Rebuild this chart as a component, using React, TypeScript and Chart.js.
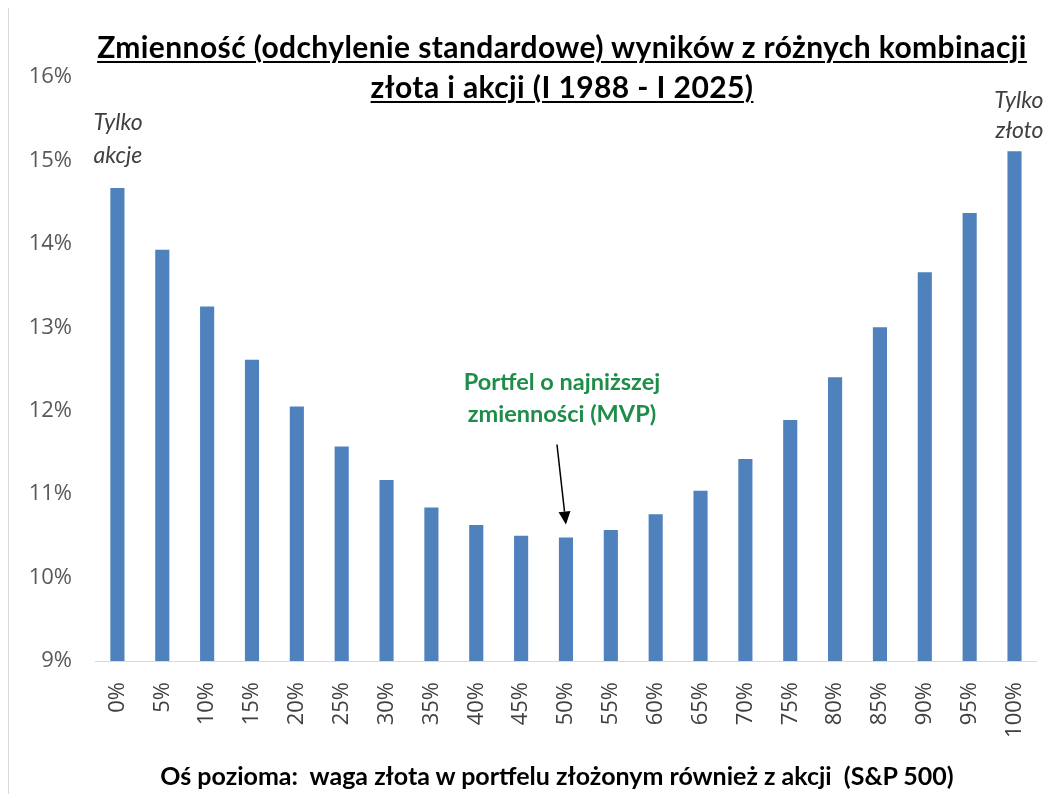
import React, { useEffect, useRef } from 'react';
import { Chart, registerables } from 'chart.js';

Chart.register(...registerables);

const categories = ['0%', '5%', '10%', '15%', '20%', '25%', '30%', '35%', '40%', '45%', '50%', '55%', '60%', '65%', '70%', '75%', '80%', '85%', '90%', '95%', '100%'];
const volatility = [14.67, 13.93, 13.25, 12.61, 12.05, 11.57, 11.17, 10.84, 10.63, 10.5, 10.48, 10.57, 10.76, 11.04, 11.42, 11.89, 12.4, 13.0, 13.66, 14.37, 15.11];
const yMin = 9;
const yMax = 16;
const titleLines = ['Zmienność (odchylenie standardowe) wyników z różnych kombinacji', 'złota i akcji (I 1988 - I 2025)'];
const xAxisTitle = 'Oś pozioma:  waga złota w portfelu złożonym również z akcji  (S&P 500)';
const leftNote = ['Tylko', 'akcje'];
const rightNote = ['Tylko', 'złoto'];
const mvpNote = ['Portfel o najniższej', 'zmienności (MVP)'];
const mvpIndex = 10;

const FONT = 'Lato, "Open Sans", sans-serif';
const TICK_FONT = '"Open Sans", Lato, sans-serif';

const annotations = {
  id: 'annotations',
  afterDatasetsDraw(chart: any) {
    const { ctx, scales } = chart;
    const x = scales.x;
    const y = scales.y;
    ctx.save();
    // Left note
    const x0 = x.getPixelForValue(0);
    const y0 = y.getPixelForValue(volatility[0]);
    ctx.fillStyle = '#404040';
    ctx.font = `italic 23px ${FONT}`;
    ctx.textAlign = 'left';
    ctx.textBaseline = 'middle';
    ctx.fillText(leftNote[0], x0 - 24, y0 - 65);
    ctx.fillText(leftNote[1], x0 - 24, y0 - 32);
    // Right note
    const last = volatility.length - 1;
    const xl = x.getPixelForValue(last);
    const yl = y.getPixelForValue(volatility[last]);
    ctx.textAlign = 'right';
    ctx.fillText(rightNote[0], xl + 29, yl - 51);
    ctx.fillText(rightNote[1], xl + 29, yl - 21);
    // MVP note
    const xm = x.getPixelForValue(mvpIndex);
    const ym = y.getPixelForValue(volatility[mvpIndex]);
    ctx.fillStyle = '#1f8c4a';
    ctx.font = `bold 23.5px ${FONT}`;
    ctx.textAlign = 'center';
    ctx.fillText(mvpNote[0], xm - 4, ym - 155);
    ctx.fillText(mvpNote[1], xm - 4, ym - 123);
    // Arrow
    const sx = xm - 9, sy = ym - 93;
    const tx = xm, ty = ym - 13;
    const ang = Math.atan2(ty - sy, tx - sx);
    const headLen = 13, headW = 6;
    const bx = tx - headLen * Math.cos(ang);
    const by = ty - headLen * Math.sin(ang);
    ctx.strokeStyle = '#000';
    ctx.lineWidth = 1.5;
    ctx.beginPath();
    ctx.moveTo(sx, sy);
    ctx.lineTo(bx, by);
    ctx.stroke();
    ctx.fillStyle = '#000';
    ctx.beginPath();
    ctx.moveTo(tx, ty);
    ctx.lineTo(bx + headW * Math.sin(ang), by - headW * Math.cos(ang));
    ctx.lineTo(bx - headW * Math.sin(ang), by + headW * Math.cos(ang));
    ctx.closePath();
    ctx.fill();
    ctx.restore();
  },
};

export default function App() {
  const canvasRef = useRef<HTMLCanvasElement | null>(null);

  useEffect(() => {
    if (!canvasRef.current) return;
    const chart = new Chart(canvasRef.current, {
      type: 'bar',
      data: {
        labels: categories,
        datasets: [
          {
            data: volatility,
            backgroundColor: '#4f81bd',
            borderWidth: 0,
            categoryPercentage: 1,
            barPercentage: 0.315,
          },
        ],
      },
      options: {
        animation: false,
        responsive: false,
        maintainAspectRatio: false,
        layout: { padding: { top: 69, right: 4, left: 0, bottom: 0 } },
        plugins: {
          legend: { display: false },
          tooltip: { enabled: false },
          title: { display: false },
        },
        scales: {
          x: {
            grid: { display: false },
            border: { display: true, color: '#d9d9d9', width: 1 },
            ticks: {
              minRotation: 90,
              maxRotation: 90,
              padding: 13,
              color: '#404040',
              font: { family: TICK_FONT, size: 22 },
              autoSkip: false,
            },
            afterFit(scale: any) {
              scale.height = 133;
            },
          },
          y: {
            min: yMin,
            max: yMax,
            grid: { display: false },
            border: { display: false },
            ticks: {
              stepSize: 1,
              padding: 15,
              color: '#595959',
              font: { family: TICK_FONT, size: 22 },
              callback: (v: any) => `${v}%`,
            },
            afterFit(scale: any) {
              scale.width = 86;
            },
          },
        },
      },
      plugins: [annotations],
    });
    return () => chart.destroy();
  }, []);

  return (
    <div style={{ position: 'relative', width: 1046, height: 786, borderLeft: '1px solid #d9d9d9', boxSizing: 'border-box' }}>
      <canvas ref={canvasRef} width={1045} height={786} style={{ display: 'block' }} />
      <div
        style={{
          position: 'absolute',
          top: 18,
          left: 30,
          width: 1046,
          textAlign: 'center',
          fontFamily: FONT,
          fontWeight: 'bold',
          fontSize: 30,
          letterSpacing: '0.4px',
          lineHeight: '40px',
          color: '#000',
          textDecoration: 'underline',
          textDecorationThickness: '2px',
          textUnderlineOffset: '3px',
          pointerEvents: 'none',
        }}
      >
        <div>{titleLines[0]}</div>
        <div>{titleLines[1]}</div>
      </div>
      <div
        style={{
          position: 'absolute',
          top: 752,
          left: 25,
          width: 1046,
          textAlign: 'center',
          fontFamily: FONT,
          fontWeight: 'bold',
          fontSize: 25,
          lineHeight: '30px',
          color: '#000',
          whiteSpace: 'pre',
          pointerEvents: 'none',
        }}
      >
        {xAxisTitle}
      </div>
    </div>
  );
}
